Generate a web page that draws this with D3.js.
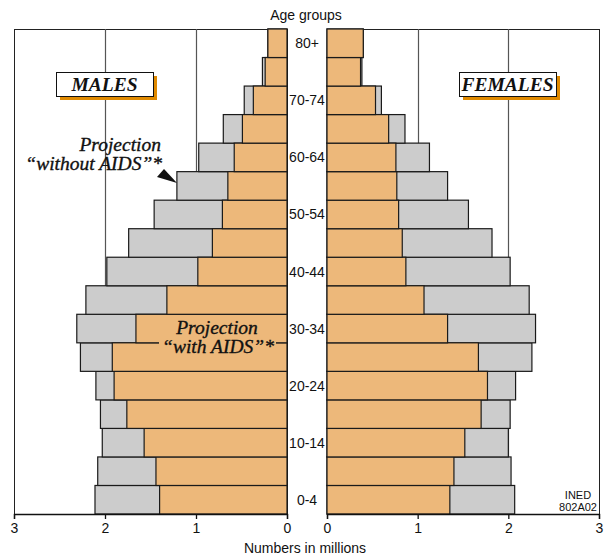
<!DOCTYPE html>
<html><head><meta charset="utf-8">
<script src="https://cdn.jsdelivr.net/npm/d3@7/dist/d3.min.js"></script>
<style>
body{margin:0;background:#fff;}
svg{display:block;font-family:"Liberation Sans",Arial,sans-serif;}
</style></head>
<body><svg id="c" width="606" height="558"></svg>
<script>
const ages = ["0-4","5-9","10-14","15-19","20-24","25-29","30-34","35-39","40-44","45-49","50-54","55-59","60-64","65-69","70-74","75-79","80+"];
const ageLabels = ["0-4","10-14","20-24","30-34","40-44","50-54","60-64","70-74","80+"];
const malesWithout = [2.11,2.08,2.03,2.05,2.10,2.27,2.31,2.21,1.98,1.74,1.46,1.21,0.97,0.70,0.47,0.27,0.21];
const malesWith    = [1.40,1.44,1.57,1.76,1.90,1.92,1.66,1.32,0.98,0.82,0.71,0.65,0.58,0.49,0.37,0.24,0.21];
const femalesWithout = [2.07,2.03,2.00,2.02,2.08,2.26,2.30,2.23,2.02,1.82,1.56,1.33,1.13,0.86,0.60,0.385,0.40];
const femalesWith    = [1.355,1.40,1.52,1.70,1.77,1.67,1.33,1.07,0.87,0.83,0.79,0.77,0.76,0.68,0.535,0.37,0.40];
const tickValues = [0,1,2,3];
const gridValues = [1,2];

const ORANGE = "#EDB87A", GRAY = "#CCCCCC", SHADOW = "#E08A00";
const svg = d3.select("#c");
const yTop = 29, yBottom = 514;
const xL = d3.scaleLinear().domain([0,3]).range([287,14]);
const xR = d3.scaleLinear().domain([0,3]).range([327,599]);
const y = d3.scaleBand().domain(ages.slice().reverse()).range([yTop,yBottom]).padding(0);

// frames
[[xL,14,287],[xR,327,599]].forEach(([x,a,b])=>{
  svg.append("rect").attr("x",a+0.5).attr("y",yTop+0.5).attr("width",b-a).attr("height",yBottom-yTop)
    .attr("fill","#fff").attr("stroke","#222").attr("stroke-width",1);
  svg.selectAll(null).data(gridValues).enter().append("line")
    .attr("x1",d=>Math.round(x(d))+0.5).attr("x2",d=>Math.round(x(d))+0.5)
    .attr("y1",yTop).attr("y2",yBottom).attr("stroke","#555").attr("stroke-width",1.2);
});

function bars(data, x, side, fill){
  svg.append("g").selectAll("rect").data(data).enter().append("rect")
    .attr("x",(d,i)=> side==="L" ? x(d) : x(0))
    .attr("width",(d)=> side==="L" ? x(0)-x(d) : x(d)-x(0))
    .attr("y",(d,i)=>y(ages[i]))
    .attr("height",y.bandwidth())
    .attr("fill",fill).attr("stroke","#1a1a1a").attr("stroke-width",1.2);
}
bars(malesWithout,xL,"L",GRAY);
bars(malesWith,xL,"L",ORANGE);
bars(femalesWithout,xR,"R",GRAY);
bars(femalesWith,xR,"R",ORANGE);

// axes
[xL,xR].forEach(x=>{
  const g = svg.append("g").attr("transform",`translate(0,${yBottom})`)
    .call(d3.axisBottom(x).tickValues(tickValues).tickSize(5).tickPadding(4).tickFormat(d3.format("d")));
  g.select(".domain").attr("stroke","#111").attr("stroke-width",1.3);
  g.selectAll(".tick line").attr("stroke","#111").attr("stroke-width",1.3);
  g.selectAll("text").attr("font-size",14).attr("font-family","Liberation Sans, Arial, sans-serif").attr("fill","#111");
});

// age labels
svg.append("g").selectAll("text").data(ageLabels).enter().append("text")
  .attr("x",307).attr("y",d=>y(d)+y.bandwidth()/2).attr("dy","0.36em")
  .attr("text-anchor","middle").attr("font-size",14).attr("fill","#111").text(d=>d);

svg.append("text").attr("x",306).attr("y",20).attr("text-anchor","middle").attr("font-size",14).attr("fill","#111").text("Age groups");
svg.append("text").attr("x",305).attr("y",553).attr("text-anchor","middle").attr("font-size",14).attr("fill","#111").text("Numbers in millions");

// INED
const ined = svg.append("text").attr("text-anchor","middle").attr("font-size",11).attr("fill","#111");
ined.append("tspan").attr("x",578).attr("y",499).text("INED");
ined.append("tspan").attr("x",578).attr("y",511).text("802A02");

// legend boxes
function labelBox(x0,x1,txt){
  svg.append("rect").attr("x",x0+4).attr("y",76).attr("width",x1-x0).attr("height",24).attr("fill",SHADOW);
  svg.append("rect").attr("x",x0+0.5).attr("y",72.5).attr("width",x1-x0).attr("height",24).attr("fill","#fff").attr("stroke","#111").attr("stroke-width",1);
  svg.append("text").attr("x",(x0+x1)/2).attr("y",91).attr("text-anchor","middle")
    .attr("font-family","Liberation Serif, Times New Roman, serif").attr("font-style","italic").attr("font-weight","bold")
    .attr("font-size",19.5).attr("fill","#111").text(txt);
}
labelBox(56,153,"MALES");
labelBox(459,556,"FEMALES");

const serif = "Liberation Serif, Times New Roman, serif";
function annot(lines, anchor){
  const t = svg.append("text").attr("text-anchor",anchor).attr("font-family",serif)
    .attr("font-style","italic").attr("font-size",19.5).attr("fill","#111")
    .attr("stroke","#111").attr("stroke-width",0.35);
  lines.forEach(l=> t.append("tspan").attr("x",l.x).attr("y",l.y).text(l.s));
}
// annotation without AIDS
annot([{x:161,y:151,s:"Projection"},{x:162,y:170,s:"\u201Cwithout AIDS\u201D*"}],"end");
svg.append("path").attr("d","M157,177 L164,169 L177,183 Z").attr("fill","#111");

// annotation with AIDS
svg.append("rect").attr("x",159).attr("y",338).attr("width",117).attr("height",12).attr("fill",ORANGE);
annot([{x:217,y:334,s:"Projection"},{x:218,y:353,s:"\u201Cwith AIDS\u201D*"}],"middle");
</script></body></html>
